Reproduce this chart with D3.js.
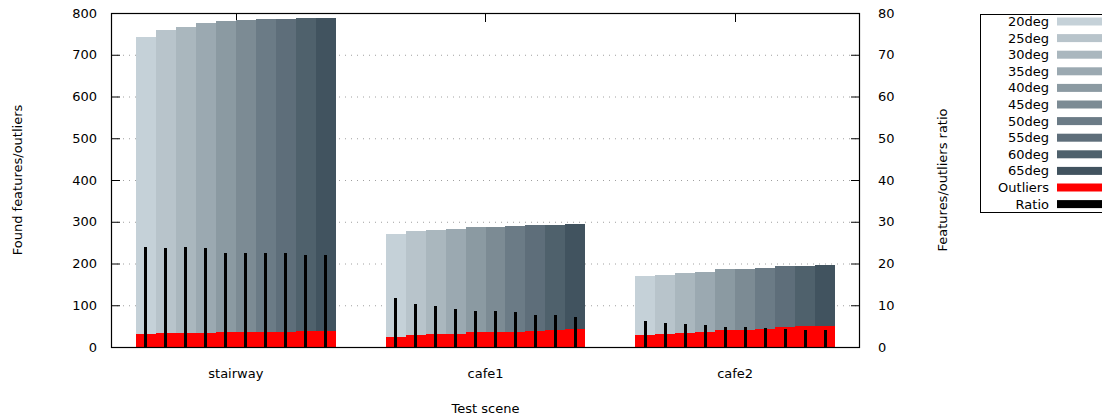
<!DOCTYPE html>
<html>
<head>
<meta charset="utf-8">
<script src="https://cdn.jsdelivr.net/npm/d3@7"></script>
<style>
  body { margin: 0; background: #fff; }
  svg text { font-family: "DejaVu Sans", sans-serif; font-size: 13px; fill: #000; }
</style>
</head>
<body>
<svg id="chart" width="1102" height="419"></svg>
<script>
// data
var scenes = ["stairway", "cafe1", "cafe2"];
var angles = ["20deg", "25deg", "30deg", "35deg", "40deg", "45deg", "50deg", "55deg", "60deg", "65deg"];
var angleColors = ["#c5d1d8", "#b8c4cb", "#aab7be", "#9ba9b1", "#8b9aa2", "#7c8b94", "#6b7b86", "#5e6e7a", "#4f616c", "#41535f"];

var featuresStairway = [742, 759, 766, 776, 781, 783, 786, 786, 788, 788];
var featuresCafe1    = [271, 278, 280, 283, 287, 287, 290, 292, 292, 295];
var featuresCafe2    = [170, 172, 177, 180, 187, 187, 189, 194, 194, 196];

var outliersStairway = [31, 33, 33, 33, 36, 36, 36, 36, 38, 38];
var outliersCafe1    = [24, 29, 31, 31, 36, 36, 36, 38, 41, 43];
var outliersCafe2    = [29, 31, 34, 36, 41, 41, 43, 48, 50, 50];

var ratioStairway = [24.0, 23.7, 24.0, 23.7, 22.5, 22.5, 22.5, 22.5, 22.0, 22.0];
var ratioCafe1    = [11.7, 10.3, 9.8, 9.1, 8.6, 8.6, 8.4, 7.7, 7.7, 7.2];
var ratioCafe2    = [6.2, 5.7, 5.5, 5.3, 4.8, 4.8, 4.6, 4.3, 4.1, 4.1];

var yTicks = [0, 100, 200, 300, 400, 500, 600, 700, 800];
var y2Ticks = [0, 10, 20, 30, 40, 50, 60, 70, 80];

var features = [featuresStairway, featuresCafe1, featuresCafe2];
var outliers = [outliersStairway, outliersCafe1, outliersCafe2];
var ratios = [ratioStairway, ratioCafe1, ratioCafe2];

var rows = [];
scenes.forEach(function(s, i){
    angles.forEach(function(a, j){
	rows.push({scene: s, angle: a, feat: features[i][j], out: outliers[i][j], ratio: ratios[i][j], col: angleColors[j]});
    });
});

var svg = d3.select("#chart");
var plotL = 111, plotR = 860, plotT = 13, plotB = 347;

var x = d3.scaleBand().domain(scenes).range([plotL, plotR]);
var bw = x.bandwidth();
var xs = d3.scaleBand().domain(angles).range([bw * 0.1, bw * 0.9]);
var y = d3.scaleLinear().domain([0, 800]).range([plotB, plotT]);
var y2 = d3.scaleLinear().domain([0, 80]).range([plotB, plotT]);

// grid
svg.append("g").selectAll("line")
    .data(yTicks.slice(1, -1))
    .enter().append("line")
    .attr("x1", plotL).attr("x2", plotR)
    .attr("y1", d => y(d) + 0.5).attr("y2", d => y(d) + 0.5)
    .attr("stroke", "#a0a0a0")
    .attr("stroke-width", 1)
    .attr("stroke-dasharray", "1,5");

// x tics top and bottom (behind the bars)
var xt = svg.append("g");
scenes.forEach(function(s){
    var cx = Math.round(x(s) + bw / 2) + 0.5;
    xt.append("line").attr("x1", cx).attr("x2", cx).attr("y1", plotT).attr("y2", plotT + 9).attr("stroke", "#000");
    xt.append("line").attr("x1", cx).attr("x2", cx).attr("y1", plotB).attr("y2", plotB - 9).attr("stroke", "#000");
});

// feature bars
svg.append("g").selectAll("rect")
    .data(rows)
    .enter().append("rect")
    .attr("x", d => x(d.scene) + xs(d.angle))
    .attr("width", xs.bandwidth())
    .attr("y", d => y(d.feat))
    .attr("height", d => plotB - y(d.feat))
    .attr("fill", d => d.col)
    .attr("shape-rendering", "crispEdges");

// outlier bars
svg.append("g").selectAll("rect")
    .data(rows)
    .enter().append("rect")
    .attr("x", d => x(d.scene) + xs(d.angle))
    .attr("width", xs.bandwidth())
    .attr("y", d => y(d.out))
    .attr("height", d => plotB - y(d.out))
    .attr("fill", "#ff0000")
    .attr("shape-rendering", "crispEdges");

// ratio bars
svg.append("g").selectAll("rect")
    .data(rows)
    .enter().append("rect")
    .attr("x", d => x(d.scene) + xs(d.angle) + xs.bandwidth() / 2 - 1.5)
    .attr("width", 3)
    .attr("y", d => y2(d.ratio))
    .attr("height", d => plotB - y2(d.ratio))
    .attr("fill", "#000")
    .attr("shape-rendering", "crispEdges");

// y tics and labels
var yg = svg.append("g");
yTicks.forEach(function(t){
    yg.append("line").attr("x1", plotL).attr("x2", plotL + 9).attr("y1", y(t) + 0.5).attr("y2", y(t) + 0.5).attr("stroke", "#000");
    yg.append("text").attr("x", 97).attr("y", y(t)).attr("dy", "0.35em").attr("text-anchor", "end").text(t);
});
y2Ticks.forEach(function(t){
    yg.append("line").attr("x1", plotR - 9).attr("x2", plotR).attr("y1", y2(t) + 0.5).attr("y2", y2(t) + 0.5).attr("stroke", "#000");
    yg.append("text").attr("x", 878).attr("y", y2(t)).attr("dy", "0.35em").attr("text-anchor", "start").text(t);
});

// category labels
svg.append("g").selectAll("text")
    .data(scenes)
    .enter().append("text")
    .attr("x", d => x(d) + bw / 2)
    .attr("y", 373).attr("dy", "0.35em")
    .attr("text-anchor", "middle")
    .text(d => d);

// border
svg.append("rect")
    .attr("x", plotL + 0.5).attr("y", plotT + 0.5)
    .attr("width", plotR - plotL - 1).attr("height", plotB - plotT)
    .attr("fill", "none").attr("stroke", "#000").attr("stroke-width", 1.2);

// axis titles
svg.append("text").attr("x", (plotL + plotR) / 2).attr("y", 408).attr("dy", "0.35em")
    .attr("text-anchor", "middle").text("Test scene");
svg.append("text").attr("transform", "translate(17,180) rotate(-90)").attr("dy", "0.35em")
    .attr("text-anchor", "middle").text("Found features/outliers");
svg.append("text").attr("transform", "translate(942,180) rotate(-90)").attr("dy", "0.35em")
    .attr("text-anchor", "middle").text("Features/outliers ratio");

// legend
var legItems = angles.map((a, i) => ({name: a, col: angleColors[i]}))
    .concat([{name: "Outliers", col: "#ff0000"}, {name: "Ratio", col: "#000000"}]);
var leg = svg.append("g");
leg.append("rect").attr("x", 980.5).attr("y", 14.5).attr("width", 140).attr("height", 198)
    .attr("fill", "#fff").attr("stroke", "#000");
leg.selectAll("g.item")
    .data(legItems)
    .enter().append("g").attr("class", "item")
    .each(function(d, i){
	var g = d3.select(this);
	var cy = 21.5 + i * 16.6;
	g.append("text").attr("x", 1049).attr("y", cy).attr("dy", "0.35em").attr("text-anchor", "end").text(d.name);
	g.append("rect").attr("x", 1057).attr("y", cy - 4).attr("width", 60).attr("height", 8).attr("fill", d.col);
    });
</script>
</body>
</html>
